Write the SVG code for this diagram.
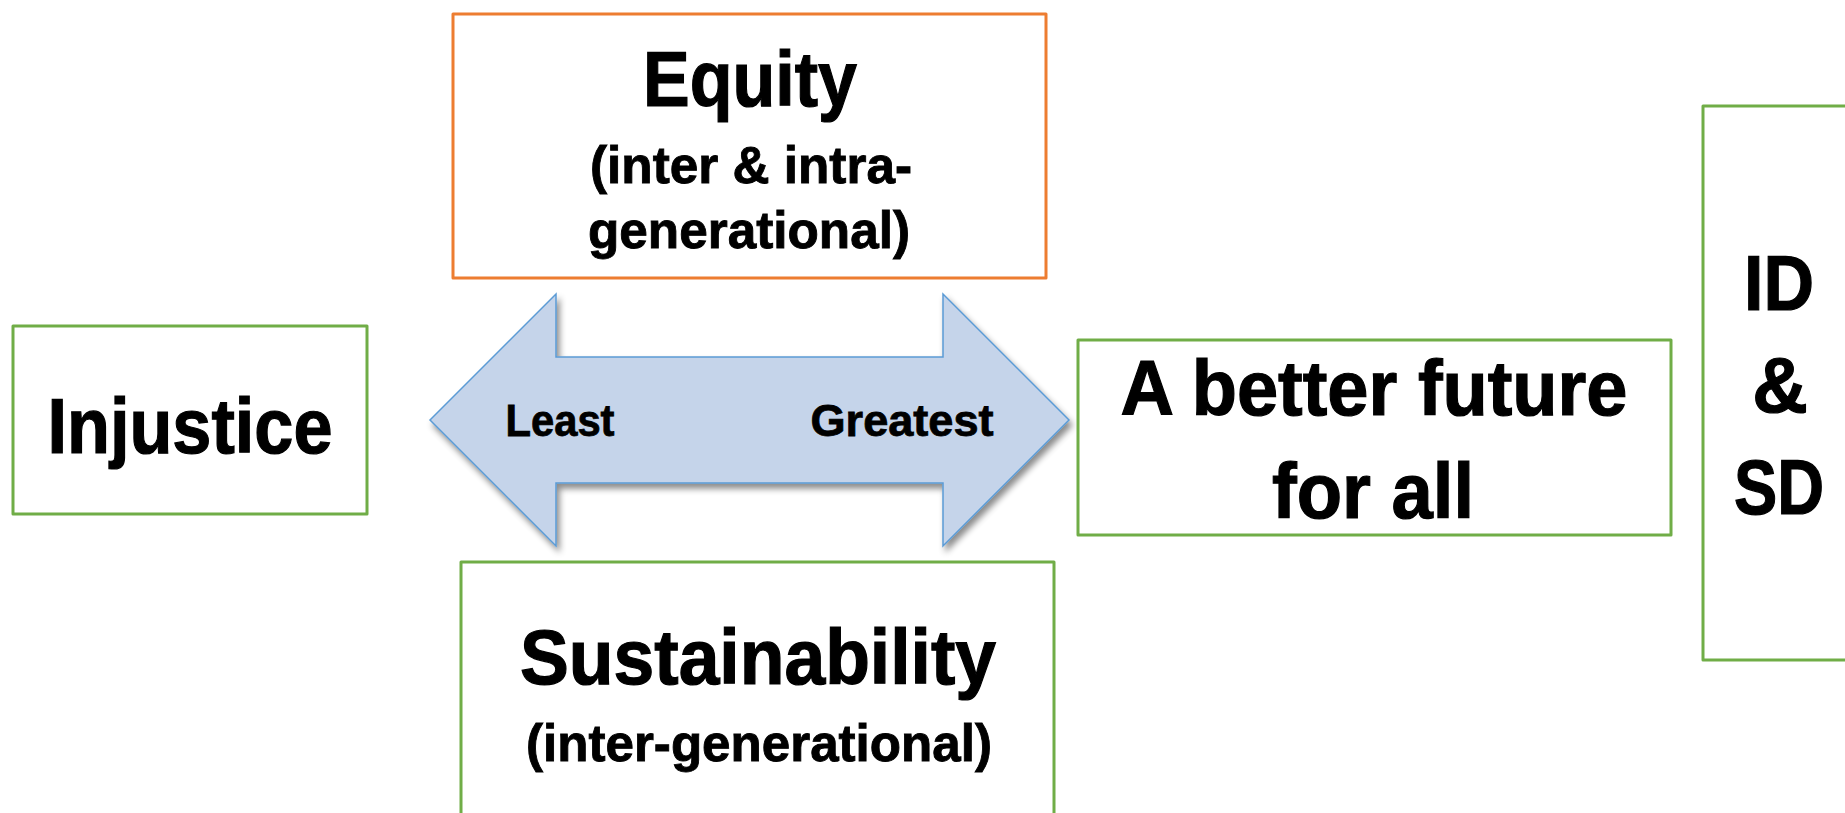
<svg xmlns="http://www.w3.org/2000/svg" width="1845" height="813" viewBox="0 0 1845 813">
<style>
.box{fill:#fff;stroke-width:3;stroke-linejoin:round}
.g{stroke:#70AD47}
.o{stroke:#ED7D31}
.t{font-family:"Liberation Sans",Arial,sans-serif;font-weight:bold;fill:#000;stroke:#000;stroke-width:1.2;text-anchor:middle}
.big{font-size:77px}
.sub{font-size:52px;stroke-width:0.9}
.lab{font-size:44px;stroke-width:0.8}
</style>
<defs>
<filter id="sh" x="-10%" y="-10%" width="125%" height="130%">
<feDropShadow dx="3" dy="5" stdDeviation="3" flood-color="#000" flood-opacity="0.45"/>
</filter>
</defs>
<g id="connectors">
<polygon points="430,420 556,294 556,357 943,357 943,294 1069,420 943,546 943,483 556,483 556,546" fill="#C5D4EA" stroke="#5B9BD5" stroke-width="1.5" stroke-linejoin="miter" filter="url(#sh)"/>
<text class="t lab" x="560" y="436" textLength="109" lengthAdjust="spacingAndGlyphs">Least</text>
<text class="t lab" x="902" y="436" textLength="183" lengthAdjust="spacingAndGlyphs">Greatest</text>
</g>
<g id="equity">
<rect class="box o" x="453" y="14" width="593" height="264"/>
<text class="t big" x="750" y="106" textLength="214" lengthAdjust="spacingAndGlyphs">Equity</text>
<text class="t sub" x="751" y="183" textLength="322" lengthAdjust="spacingAndGlyphs">(inter &amp; intra-</text>
<text class="t sub" x="749" y="248" textLength="322" lengthAdjust="spacingAndGlyphs">generational)</text>
</g>
<g id="injustice">
<rect class="box g" x="13" y="326" width="354" height="188"/>
<text class="t big" x="190" y="453" textLength="285" lengthAdjust="spacingAndGlyphs">Injustice</text>
</g>
<g id="better-future">
<rect class="box g" x="1078" y="340" width="593" height="195"/>
<text class="t big" x="1374" y="415" textLength="507" lengthAdjust="spacingAndGlyphs">A better future</text>
<text class="t big" x="1373" y="518" textLength="202" lengthAdjust="spacingAndGlyphs">for all</text>
</g>
<g id="id-sd">
<rect class="box g" x="1703" y="106" width="170" height="554"/>
<text class="t big" x="1779" y="310" textLength="70" lengthAdjust="spacingAndGlyphs">ID</text>
<text class="t big" x="1780" y="412">&amp;</text>
<text class="t big" x="1779" y="514" textLength="90" lengthAdjust="spacingAndGlyphs">SD</text>
</g>
<g id="sustainability">
<rect class="box g" x="461" y="562" width="593" height="270"/>
<text class="t big" x="758" y="684" textLength="476" lengthAdjust="spacingAndGlyphs">Sustainability</text>
<text class="t sub" x="759" y="761" textLength="466" lengthAdjust="spacingAndGlyphs">(inter-generational)</text>
</g>
</svg>
